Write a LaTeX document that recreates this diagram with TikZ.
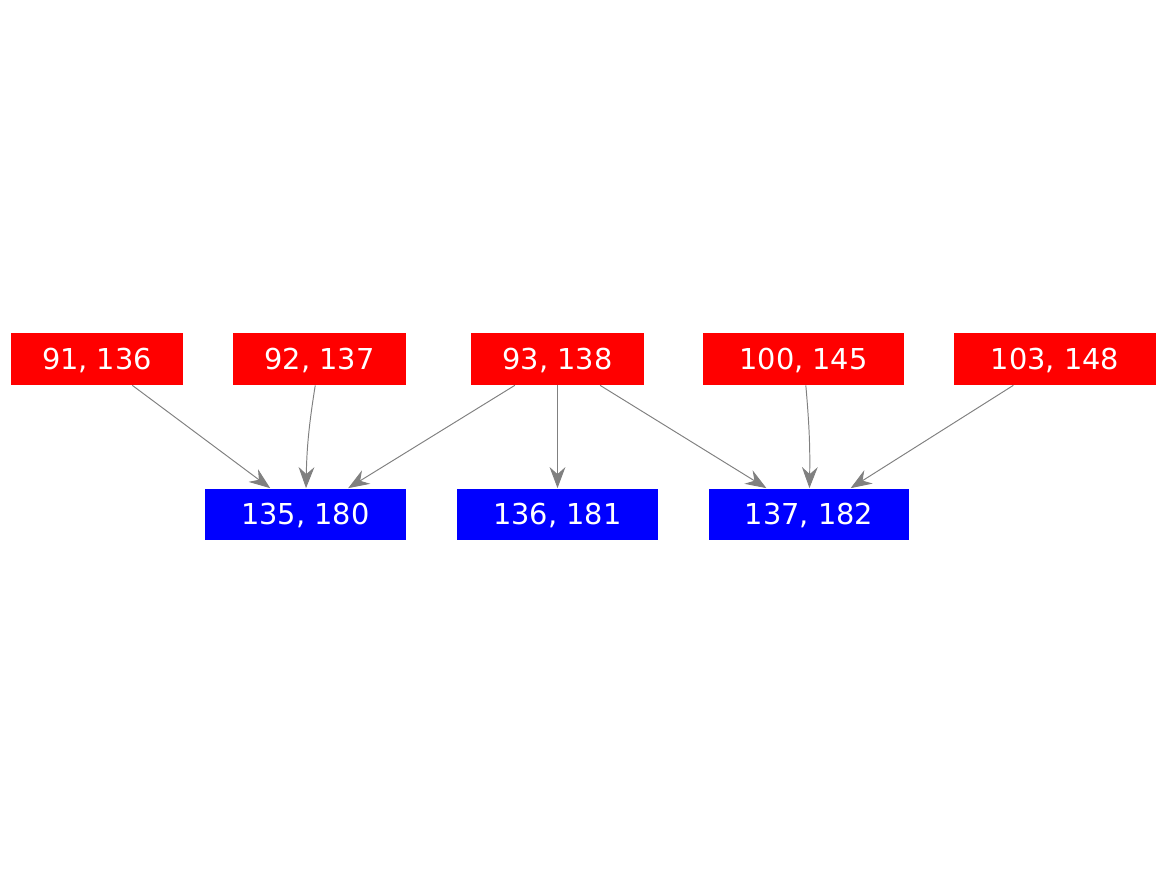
\documentclass[tikz,border=0pt]{standalone}
\usepackage{fontspec}
\setmainfont{DejaVu Sans}
\usetikzlibrary{arrows.meta}

\begin{document}
\begin{tikzpicture}[x=0.02cm,y=-0.02cm,
    src/.style={fill=red,text=white,inner sep=0pt,minimum height=1.04cm,text height=11.9pt,text depth=0pt,font=\fontsize{16.4}{18}\selectfont},
    dst/.style={fill=blue,text=white,inner sep=0pt,minimum height=1.04cm,minimum width=4.02cm,text height=11.9pt,text depth=0pt,font=\fontsize{16.4}{18}\selectfont},
    edge/.style={draw=gray,line width=0.55pt,-{Stealth[length=12pt,width=9pt,inset=4pt]}}]
            \useasboundingbox (0,0) rectangle (1167,875);
            % upper row
            \node [src,minimum width=3.46cm] (n91) at (97,359) {91, 136};
            \node [src,minimum width=3.46cm] (n92) at (319.5,359) {92, 137};
            \node [src,minimum width=3.46cm] (n93) at (557.5,359) {93, 138};
            \node [src,minimum width=4.04cm] (n100) at (803.5,359) {100, 145};
            \node [src,minimum width=4.04cm] (n103) at (1055,359) {103, 148};
            % lower row
            \node [dst] (n135) at (305.5,514.5) {135, 180};
            \node [dst] (n136) at (557.5,514.5) {136, 181};
            \node [dst] (n137) at (809,514.5) {137, 182};
            % edges
            \draw [edge] (n91) -- (n135);
            \draw [edge] (n92) to [bend right=4] (n135);
            \draw [edge] (n93) -- (n135);
            \draw [edge] (n93) -- (n136);
            \draw [edge] (n93) -- (n137);
            \draw [edge] (n100) to [bend left=3] (n137);
            \draw [edge] (n103) -- (n137);
\end{tikzpicture}
\end{document}
